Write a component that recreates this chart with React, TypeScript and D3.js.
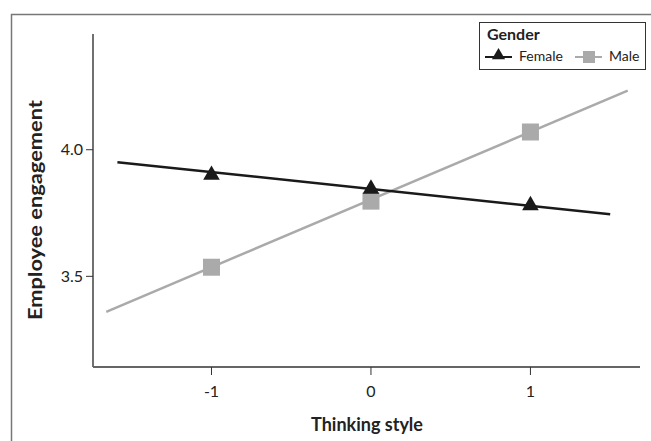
import React from "react";
import * as d3 from "d3";

// x positions of the observed points (thinking style, -1 SD / mean / +1 SD)
const xValues = [-1, 0, 1];
const femaleValues = [3.9, 3.845, 3.78];
const maleValues = [3.536, 3.797, 4.07];

// fitted lines, drawn across the range
const femaleLineX = [-1.59, 1.5];
const femaleLineY = [3.951, 3.745];
const maleLineX = [-1.66, 1.61];
const maleLineY = [3.36, 4.233];

const xTicks = [-1, 0, 1];
const yTicks = [3.5, 4.0];

const font = "Lato, sans-serif";

export default function App() {
  const width = 651;
  const height = 441;
  const left = 93;
  const right = 640;
  const top = 34;
  const bottom = 367;

  const xScale = d3.scaleLinear().domain([-1.743, 1.687]).range([left, right]);
  const yScale = d3.scaleLinear().domain([3.142, 4.457]).range([bottom, top]);

  const line = d3
    .line<[number, number]>()
    .x((d) => xScale(d[0]))
    .y((d) => yScale(d[1]));

  const femaleLine = line(femaleLineX.map((x, i) => [x, femaleLineY[i]]));
  const maleLine = line(maleLineX.map((x, i) => [x, maleLineY[i]]));

  const triangle = d3.symbol(d3.symbolTriangle, 120)();
  const sq = 17;

  return (
    <svg width={width} height={height} style={{ position: "absolute", left: 0, top: 0 }} fontFamily={font}>
      <rect width={width} height={height} fill="#fff" />
      {/* outer frame */}
      <path d={`M11.5,${height} V14.5 H${width}`} fill="none" stroke="#777" strokeWidth={1.5} />

      {/* axes */}
      <line x1={left} x2={left} y1={top} y2={bottom} stroke="#111" strokeWidth={1.2} />
      <line x1={left} x2={right} y1={bottom} y2={bottom} stroke="#666" strokeWidth={2} />

      {yTicks.map((t) => (
        <g key={t} transform={`translate(${left},${yScale(t)})`}>
          <line x1={-7} x2={0} stroke="#333" strokeWidth={1} />
          <text x={-10} dy="0.36em" textAnchor="end" fontSize={16} fill="#222">
            {d3.format(".1f")(t)}
          </text>
        </g>
      ))}
      {xTicks.map((t) => (
        <g key={t} transform={`translate(${xScale(t)},${bottom})`}>
          <line y1={0} y2={8} stroke="#333" strokeWidth={1} />
          <text y={30} textAnchor="middle" fontSize={16} fill="#222">
            {t}
          </text>
        </g>
      ))}

      <text
        transform={`translate(42,210) rotate(-90)`}
        textAnchor="middle"
        fontSize={19}
        fontWeight="bold"
        fill="#222"
        textLength={220}
        lengthAdjust="spacingAndGlyphs"
      >
        Employee engagement
      </text>
      <text x={367} y={431} textAnchor="middle" fontSize={18} fontWeight="bold" fill="#222">
        Thinking style
      </text>

      {/* fitted lines */}
      <path d={maleLine ?? ""} fill="none" stroke="#aaa" strokeWidth={2.5} />
      <path d={femaleLine ?? ""} fill="none" stroke="#1a1a1a" strokeWidth={2.5} />

      {/* markers */}
      {xValues.map((x, i) => (
        <rect
          key={"m" + x}
          x={xScale(x) - sq / 2}
          y={yScale(maleValues[i]) - sq / 2}
          width={sq}
          height={sq}
          fill="#aaa"
        />
      ))}
      {xValues.map((x, i) => (
        <path
          key={"f" + x}
          d={triangle ?? ""}
          transform={`translate(${xScale(x)},${yScale(femaleValues[i])})`}
          fill="#1a1a1a"
        />
      ))}

      {/* legend */}
      <g>
        <rect x={479.5} y={22.5} width={166} height={47} fill="#fff" stroke="#333" strokeWidth={1} />
        <text x={487} y={40} fontSize={16} fontWeight="bold" fill="#222">
          Gender
        </text>
        <line x1={485} x2={512} y1={57} y2={57} stroke="#1a1a1a" strokeWidth={2} />
        <path d={d3.symbol(d3.symbolTriangle, 75)() ?? ""} transform="translate(498.5,55.5)" fill="#1a1a1a" />
        <text x={519} y={61} fontSize={14} fill="#222">
          Female
        </text>
        <line x1={575} x2={602} y1={57} y2={57} stroke="#aaa" strokeWidth={2} />
        <rect x={583} y={51} width={12} height={12} fill="#aaa" />
        <text x={609} y={61} fontSize={14} fill="#222">
          Male
        </text>
      </g>
    </svg>
  );
}
